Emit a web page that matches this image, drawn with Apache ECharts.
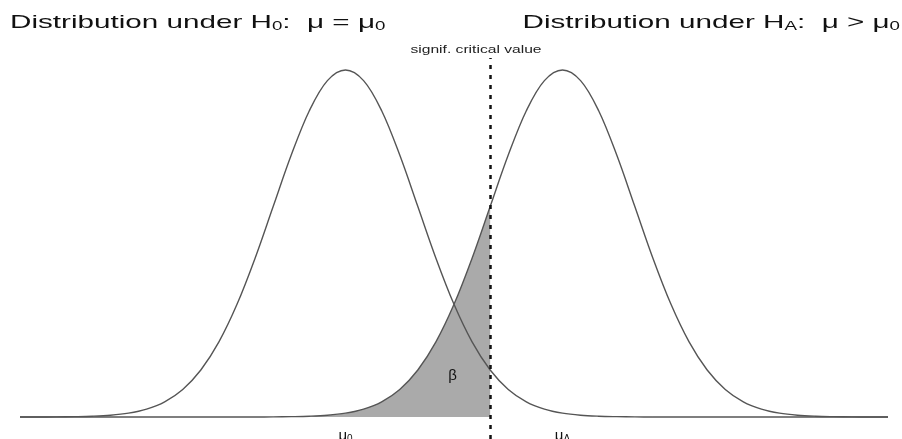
<!DOCTYPE html>
<html>
<head>
<meta charset="utf-8">
<script src="https://cdn.jsdelivr.net/npm/echarts@6/dist/echarts.min.js"></script>
<style>
  html, body { margin: 0; padding: 0; background: #fff; }
  #chart { width: 902px; height: 439px; }
</style>
</head>
<body>
<div id="chart"></div>
<script>
// Grid of x positions (in units of the standard deviation)
const xs = [-4.5, -4.25, -4, -3.75, -3.5, -3.25, -3, -2.75, -2.5, -2.25, -2, -1.75, -1.5, -1.25,
  -1, -0.75, -0.5, -0.25, 0, 0.25, 0.5, 0.75, 1, 1.25, 1.5, 1.75, 2, 2.25, 2.5, 2.75, 3,
  3.25, 3.5, 3.75, 4, 4.25, 4.5, 4.75, 5, 5.25, 5.5, 5.75, 6, 6.25, 6.5, 6.75, 7, 7.25, 7.5];

// Density under the null hypothesis (centred at mu0)
const densityH0 = [0.0000, 0.0000, 0.0001, 0.0004, 0.0009, 0.0020, 0.0044, 0.0091, 0.0175, 0.0317,
  0.0540, 0.0863, 0.1295, 0.1826, 0.2420, 0.3011, 0.3521, 0.3867, 0.3989, 0.3867, 0.3521, 0.3011,
  0.2420, 0.1826, 0.1295, 0.0863, 0.0540, 0.0317, 0.0175, 0.0091, 0.0044, 0.0020, 0.0009, 0.0004,
  0.0001, 0, 0, 0, 0, 0, 0, 0, 0, 0, 0, 0, 0, 0, 0];

// Density under the alternative hypothesis (centred at muA)
const densityHA = [0, 0, 0, 0, 0, 0, 0, 0, 0, 0, 0, 0, 0, 0,
  0.0001, 0.0004, 0.0009, 0.0020, 0.0044, 0.0091, 0.0175, 0.0317, 0.0540, 0.0863, 0.1295, 0.1826,
  0.2420, 0.3011, 0.3521, 0.3867, 0.3989, 0.3867, 0.3521, 0.3011, 0.2420, 0.1826, 0.1295, 0.0863,
  0.0540, 0.0317, 0.0175, 0.0091, 0.0044, 0.0020, 0.0009, 0.0004, 0.0001, 0.0000, 0.0000];

const mu0 = 0;
const muA = 3;
const criticalValue = 2;

const curveH0 = xs.map((x, i) => [x, densityH0[i]]);
const curveHA = xs.map((x, i) => [x, densityHA[i]]);
const betaRegion = curveHA.filter(p => p[0] <= criticalValue);

const FONT = '"Liberation Sans", Arial, Helvetica, sans-serif';
const curveStyle = { color: '#555', width: 1.4 };
const SMOOTH = 0.35;

const chart = echarts.init(document.getElementById('chart'), null, { renderer: 'canvas' });

const titleRich = {
  t: { fontSize: 19, fontFamily: FONT, fill: '#111', fontWeight: 'normal' },
  s: { fontSize: 12, fontFamily: FONT, fill: '#111', fontWeight: 'normal', padding: [8, 0, 0, 0] }
};

chart.setOption({
  animation: false,
  backgroundColor: '#fff',
  graphic: [
    {
      type: 'text', x: 10, y: 13, scaleX: 1.56,
      style: {
        text: '{t|Distribution under H}{s|0}{t|:  μ = μ}{s|0}',
        rich: titleRich, textAlign: 'left', textVerticalAlign: 'top'
      }
    },
    {
      type: 'text', x: 900, y: 13, scaleX: 1.56,
      style: {
        text: '{t|Distribution under H}{s|A}{t|:  μ > μ}{s|0}',
        rich: titleRich, textAlign: 'right', textVerticalAlign: 'top'
      }
    },
    {
      type: 'text', x: 476, y: 50, scaleX: 1.42,
      style: {
        text: 'signif. critical value',
        fontSize: 11, fontFamily: FONT, fill: '#222',
        textAlign: 'center', textVerticalAlign: 'middle'
      }
    }
  ],
  grid: { left: 20, right: 14, top: 58, bottom: 0, outerBoundsMode: 'none', containLabel: false },
  xAxis: {
    type: 'value',
    position: 'bottom',
    offset: -22,
    min: -4.5, max: 7.5, interval: 1.5,
    axisLine: { show: false, onZero: false },
    axisTick: { show: false },
    splitLine: { show: false },
    axisLabel: {
      show: true, margin: 11,
      formatter: v => v === mu0 ? '{m|μ}{s|0}' : (v === muA ? '{m|μ}{s|A}' : ''),
      rich: {
        m: { fontSize: 15, fontFamily: FONT, color: '#111' },
        s: { fontSize: 10, fontFamily: FONT, color: '#111', padding: [6, 0, 0, 0] }
      }
    }
  },
  yAxis: {
    type: 'value',
    min: -0.0253, max: 0.4127,
    show: false
  },
  series: [
    {
      name: 'beta',
      type: 'line',
      data: betaRegion,
      smooth: SMOOTH,
      showSymbol: false,
      lineStyle: { width: 0 },
      areaStyle: { color: '#aaaaaa', opacity: 1 },
      z: 1,
      markPoint: {
        symbol: 'circle', symbolSize: 0,
        label: { show: true, formatter: 'β', fontSize: 15, fontFamily: FONT, color: '#111', position: 'inside' },
        data: [{ coord: [1.48, 0.047] }]
      }
    },
    {
      name: 'H0',
      type: 'line',
      data: curveH0,
      smooth: SMOOTH,
      showSymbol: false,
      lineStyle: curveStyle,
      z: 3
    },
    {
      name: 'HA',
      type: 'line',
      data: curveHA,
      smooth: SMOOTH,
      showSymbol: false,
      lineStyle: curveStyle,
      z: 3,
      markLine: {
        silent: true,
        symbol: ['none', 'none'],
        lineStyle: { color: '#111', type: [4, 6], width: 2.5 },
        label: { show: false },
        data: [{ xAxis: criticalValue }]
      }
    }
  ]
});
</script>
</body>
</html>
